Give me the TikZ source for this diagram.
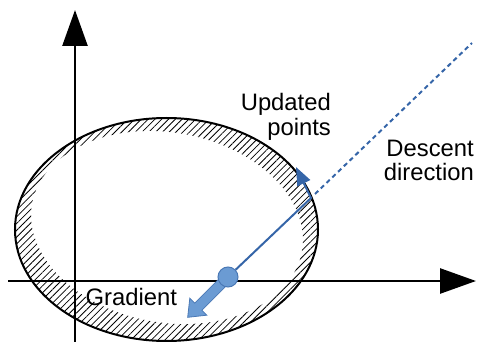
\documentclass[tikz,border=0pt]{standalone}
\usepackage{fontspec}
\setmainfont{Liberation Sans}
\usetikzlibrary{arrows.meta,patterns.meta}
\definecolor{lineblue}{HTML}{3565A8}
\definecolor{ptfill}{HTML}{6B9BD3}
\definecolor{ptdraw}{HTML}{4A78B5}
\begin{document}
\begin{tikzpicture}[x=1pt,y=-1pt,
  axis/.style={line width=2.6pt, -{Triangle[length=36pt,width=25pt]}},
  lbl/.style={font=\fontsize{23.8}{24.5}\selectfont, inner sep=0pt, align=right},
  hatch/.style={pattern={Lines[angle=45,distance=4.8pt,line width=0.8pt]}, even odd rule},
  blueline/.style={draw=lineblue, line width=2pt},
  ptstyle/.style={circle, minimum size=20pt, inner sep=0pt, fill=ptfill, draw=ptdraw, line width=1pt},
  gradarrow/.style={fill=ptfill, draw=ptdraw, line width=0.8pt, line join=miter}]
\useasboundingbox (0,0) rectangle (477,342);
% hatched ring
\fill[hatch]
  (166.5,229.5) ellipse [x radius=151.5pt, y radius=111.5pt]
  (167,227.5) ellipse [x radius=137pt, y radius=95pt, rotate=-10];
\draw[line width=2pt] (166.5,229.5) ellipse [x radius=151.5pt, y radius=111.5pt];
% axes
\coordinate (xs) at (8,281);
\coordinate (xe) at (476,281);
\coordinate (ys) at (75,342);
\coordinate (ye) at (75,10);
\draw[axis] (xs) -- (xe);
\draw[axis] (ys) -- (ye);
% gradient arrow
\coordinate (pc) at (228,277);
\begin{scope}[shift={(pc)}, rotate=-135]
  \draw[gradarrow] (8,-5) -- (42,-5) -- (42,-12) -- (57,0) -- (42,12) -- (42,5) -- (8,5) -- cycle;
\end{scope}
% descent direction
\coordinate (hit) at (311,198);
\coordinate (upd) at (296,167);
\coordinate (ds) at (315,194);
\coordinate (de) at (472,43);
\draw[blueline, dash pattern=on 4.5pt off 3.5pt] (ds) -- (de);
\node[ptstyle] (p) at (pc) {};
\draw[blueline, -{Triangle[length=18pt,width=14pt]}] (p) -- (hit) -- (upd);
% labels
\node[lbl, anchor=north east] (updlbl) at (331,93.5) {Updated\\points};
\node[lbl, anchor=north east] (desclbl) at (474,139.5) {Descent\\direction};
\node[lbl, anchor=base west] (gradlbl) at (85.5,305) {Gradient};
\end{tikzpicture}
\end{document}
